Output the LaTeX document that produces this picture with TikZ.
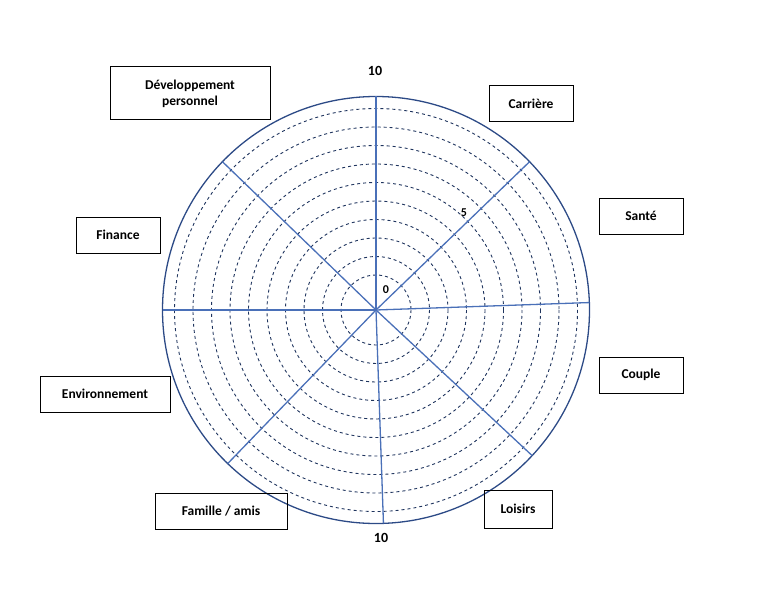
\documentclass[tikz,border=0pt]{standalone}
\usepackage{fontspec}
\setmainfont{Carlito}
\definecolor{spk}{HTML}{4A70B8}
\definecolor{outer}{HTML}{2C4A86}
\begin{document}
\begin{tikzpicture}[x=1pt,y=-1pt,
  lab/.style={draw,line width=1pt,font=\bfseries\fontsize{13.5}{16}\selectfont,align=center,inner sep=0pt},
  num/.style={font=\bfseries\fontsize{14}{16}\selectfont},
  ring/.style={dashed,line width=0.9pt,color=outer!70!black},
  spoke/.style={line width=1.3pt,color=spk}]
\useasboundingbox (0,0) rectangle (759,588);
\coordinate (c) at (376,310);
\foreach \r in {35,53.5,72,90.5,109,127.5,146,164.5,183,201.5}
  \draw[ring] (c) circle[radius=\r];
\draw[line width=1.3pt,color=outer] (c) circle[radius=213.5];
\foreach \a in {90,44,2,136,180,226,272,317}
  \draw[spoke] (c) -- +({213.5*cos(\a)},{-213.5*sin(\a)});
\node[lab,minimum width=160,minimum height=53] (dp) at (190,93.5) {Développement\\personnel};
\node[lab,minimum width=84,minimum height=36] (ca) at (531,104) {Carrière};
\node[lab,minimum width=84,minimum height=36] (sa) at (641,216) {Santé};
\node[lab,minimum width=84,minimum height=36] (fi) at (118,235) {Finance};
\node[lab,minimum width=84,minimum height=36] (co) at (641,375) {Couple};
\node[lab,minimum width=130,minimum height=36] (en) at (105,394) {Environnement};
\node[lab,minimum width=132,minimum height=36] (fa) at (221,511) {Famille / amis};
\node[lab,minimum width=68,minimum height=38] (lo) at (518,509) {Loisirs};
\node[num] (t10) at (375,71) {10};
\node[num] (b10) at (381,538) {10};
\node[num,font=\bfseries\fontsize{12}{14}\selectfont] (n5) at (464,213) {5};
\node[num,font=\bfseries\fontsize{12}{14}\selectfont] (n0) at (386,290) {0};
\end{tikzpicture}
\end{document}
